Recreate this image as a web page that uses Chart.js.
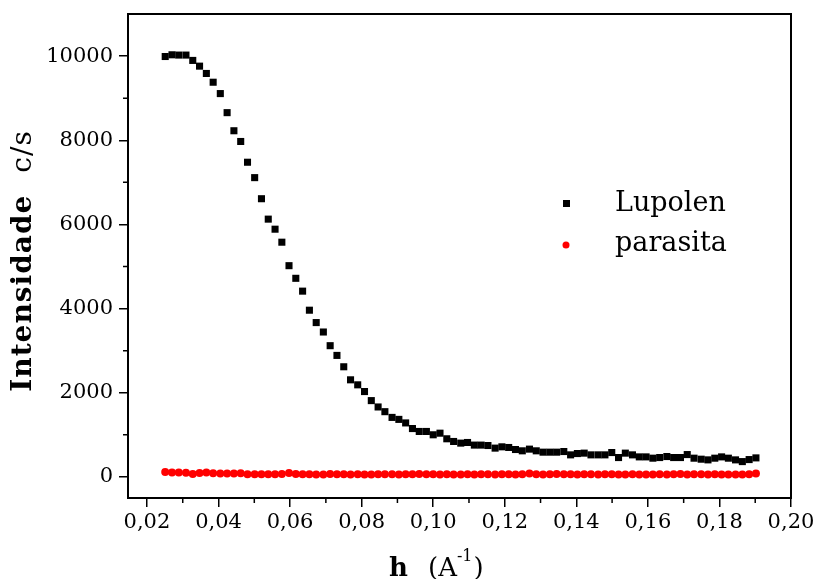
<!DOCTYPE html>
<html>
<head>
<meta charset="utf-8">
<script src="https://cdn.jsdelivr.net/npm/chart.js@4/dist/chart.umd.min.js"></script>
<style>
  body { margin: 0; background: #fff; }
  canvas { display: block; }
</style>
</head>
<body>
<canvas id="myChart" width="818" height="579"></canvas>
<script>
// h (1/A)
var h = [
  0.0251, 0.0270, 0.0289, 0.0309, 0.0328, 0.0347, 0.0366, 0.0385, 0.0405, 0.0424,
  0.0443, 0.0462, 0.0481, 0.0501, 0.0520, 0.0539, 0.0558, 0.0577, 0.0597, 0.0616,
  0.0635, 0.0654, 0.0673, 0.0693, 0.0712, 0.0731, 0.0750, 0.0769, 0.0789, 0.0808,
  0.0827, 0.0846, 0.0865, 0.0885, 0.0904, 0.0923, 0.0942, 0.0961, 0.0981, 0.1000,
  0.1019, 0.1038, 0.1057, 0.1077, 0.1096, 0.1115, 0.1134, 0.1153, 0.1173, 0.1192,
  0.1211, 0.1230, 0.1249, 0.1269, 0.1288, 0.1307, 0.1326, 0.1345, 0.1365, 0.1384,
  0.1403, 0.1422, 0.1441, 0.1461, 0.1480, 0.1499, 0.1518, 0.1537, 0.1557, 0.1576,
  0.1595, 0.1614, 0.1633, 0.1653, 0.1672, 0.1691, 0.1710, 0.1729, 0.1749, 0.1768,
  0.1787, 0.1806, 0.1825, 0.1845, 0.1864, 0.1883, 0.1902
];

var lupolen = [
  9990, 10031, 10024, 10024, 9897, 9761, 9587, 9379, 9109, 8656,
  8226, 7971, 7478, 7112, 6611, 6126, 5887, 5578, 5020, 4720,
  4415, 3962, 3668, 3444, 3119, 2888, 2618, 2308, 2189, 2029,
  1814, 1663, 1551, 1415, 1368, 1284, 1150, 1081, 1081, 1002,
  1040, 907, 843, 804, 819, 757, 757, 747, 685, 716,
  700, 652, 621, 661, 621, 589, 589, 589, 604, 525,
  556, 566, 525, 525, 525, 580, 461, 566, 525, 477,
  477, 446, 461, 485, 461, 461, 532, 446, 422, 406,
  446, 477, 446, 406, 365, 413, 453
];

var parasita = [
  115, 105, 105, 98, 70, 92, 105, 90, 85, 85,
  85, 90, 62, 62, 64, 62, 62, 70, 92, 68,
  66, 62, 60, 60, 68, 62, 64, 60, 62, 58,
  60, 66, 62, 62, 58, 62, 66, 70, 64, 62,
  60, 64, 58, 60, 62, 60, 62, 64, 60, 62,
  66, 60, 62, 80, 64, 60, 62, 68, 64, 62,
  60, 62, 64, 60, 62, 64, 60, 60, 62, 60,
  60, 58, 62, 60, 62, 70, 60, 62, 64, 60,
  62, 60, 60, 58, 60, 62, 80
];

var xTicks = [0.02, 0.04, 0.06, 0.08, 0.10, 0.12, 0.14, 0.16, 0.18, 0.20];
var xMinor = [0.03, 0.05, 0.07, 0.09, 0.11, 0.13, 0.15, 0.17, 0.19];
var yTicks = [0, 2000, 4000, 6000, 8000, 10000];
var yMinor = [1000, 3000, 5000, 7000, 9000];

var serif = "'DejaVu Serif', 'Liberation Serif', serif";

// frame, minor ticks, axis titles, legend
var decor = {
  id: 'decor',
  afterDraw: function(chart) {
    var ctx = chart.ctx, a = chart.chartArea;
    var sx = chart.scales.x, sy = chart.scales.y;
    ctx.save();
    ctx.strokeStyle = '#000';
    ctx.lineWidth = 2;
    ctx.strokeRect(a.left, a.top, a.right - a.left, a.bottom - a.top);

    ctx.lineWidth = 1.5;
    ctx.beginPath();
    xMinor.forEach(function(v) {
      var px = sx.getPixelForValue(v);
      ctx.moveTo(px, a.bottom);
      ctx.lineTo(px, a.bottom + 5);
    });
    yMinor.forEach(function(v) {
      var py = sy.getPixelForValue(v);
      ctx.moveTo(a.left, py);
      ctx.lineTo(a.left - 5, py);
    });
    ctx.stroke();

    // y title
    ctx.fillStyle = '#000';
    ctx.textBaseline = 'middle';
    ctx.textAlign = 'left';
    ctx.letterSpacing = '1px';
    var fb = 'bold 28px ' + serif, fr = '28px ' + serif;
    ctx.font = fb;
    var w1 = ctx.measureText('Intensidade').width;
    ctx.font = fr;
    var w2 = ctx.measureText('c/s').width;
    var gap = 22;
    var total = w1 + gap + w2;
    ctx.save();
    ctx.translate(24, 261);
    ctx.rotate(-Math.PI / 2);
    ctx.font = fb;
    ctx.fillText('Intensidade', -total / 2, 0);
    ctx.font = fr;
    ctx.fillText('c/s', -total / 2 + w1 + gap, 0);
    ctx.restore();
    ctx.letterSpacing = '0px';

    // x title
    ctx.textBaseline = 'alphabetic';
    ctx.font = 'bold 26px ' + serif;
    ctx.fillText('h', 389, 576);
    ctx.font = '26px ' + serif;
    ctx.fillText('(A', 428, 576);
    var wa = ctx.measureText('(A').width;
    ctx.font = '16px ' + serif;
    ctx.fillText('-1', 428 + wa, 561);
    var ws = ctx.measureText('-1').width;
    ctx.font = '26px ' + serif;
    ctx.fillText(')', 428 + wa + ws + 1, 576);

    // legend
    ctx.font = '27px ' + serif;
    ctx.textBaseline = 'middle';
    ctx.fillStyle = '#000';
    ctx.fillRect(563, 200, 7, 7);
    ctx.fillText('Lupolen', 615, 204);
    ctx.fillStyle = '#ff0000';
    ctx.beginPath();
    ctx.arc(566, 245, 3.5, 0, Math.PI * 2);
    ctx.fill();
    ctx.fillStyle = '#000';
    ctx.fillText('parasita', 615, 244);
    ctx.restore();
  }
};

var ctx = document.getElementById('myChart');
var chart = new Chart(ctx, {
  type: 'scatter',
  data: {
    datasets: [{
      label: 'Lupolen',
      data: h.map(function(x, i) { return { x: x, y: lupolen[i] }; }),
      pointStyle: 'rect',
      pointRadius: 5,
      backgroundColor: '#000',
      borderWidth: 0
    }, {
      label: 'parasita',
      data: h.map(function(x, i) { return { x: x, y: parasita[i] }; }),
      pointStyle: 'circle',
      pointRadius: 4,
      backgroundColor: '#ff0000',
      borderWidth: 0
    }]
  },
  options: {
    responsive: false,
    animation: false,
    layout: { padding: { top: 14, right: 27, left: 0, bottom: 0 } },
    plugins: { legend: { display: false }, tooltip: { enabled: false } },
    scales: {
      x: {
        type: 'linear',
        min: 0.0147,
        max: 0.2,
        afterBuildTicks: function(s) { s.ticks = xTicks.map(function(v) { return { value: v }; }); },
        afterFit: function(s) { s.height = 81; s.paddingLeft = 0; s.paddingRight = 0; },
        grid: { drawOnChartArea: false, tickLength: 9, color: '#000', lineWidth: 1.5 },
        border: { display: true, color: '#000', width: 2 },
        ticks: {
          color: '#000',
          font: { family: serif, size: 21 },
          padding: 3,
          maxRotation: 0,
          autoSkip: false,
          callback: function(v) { return v.toFixed(2).replace('.', ','); }
        }
      },
      y: {
        min: -500,
        max: 11000,
        afterBuildTicks: function(s) { s.ticks = yTicks.map(function(v) { return { value: v }; }); },
        afterFit: function(s) { s.width = 128; s.paddingTop = 0; s.paddingBottom = 0; },
        grid: { drawOnChartArea: false, tickLength: 9, color: '#000', lineWidth: 1.5 },
        border: { display: true, color: '#000', width: 2 },
        ticks: {
          color: '#000',
          font: { family: serif, size: 21 },
          padding: 6,
          callback: function(v) { return String(v); }
        }
      }
    }
  },
  plugins: [decor]
});
</script>
</body>
</html>
